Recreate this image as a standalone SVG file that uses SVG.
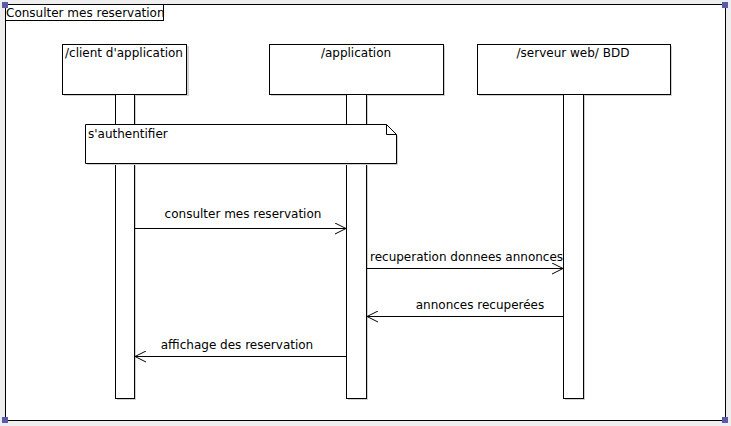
<svg xmlns="http://www.w3.org/2000/svg" width="731" height="426" viewBox="0 0 731 426">
<style>
text{font-family:"DejaVu Sans",Verdana,sans-serif;font-size:12px;fill:#000}
.box{fill:#fff;stroke:#000;stroke-width:1}
.shadow{fill:#d0d0d0}
.msg{stroke:#000;stroke-width:1;fill:none}
.handle{fill:#5a5aaa}
</style>
<defs>
<marker id="open" markerWidth="12" markerHeight="12" refX="11" refY="6" orient="auto" markerUnits="userSpaceOnUse">
<path d="M0,0.5 L11,6 L0,11.5" fill="none" stroke="#000" stroke-width="1"/>
</marker>
</defs>
<rect x="0" y="0" width="731" height="426" fill="#eeeeee"/>
<g id="frame">
<rect x="5.5" y="4.5" width="720" height="416" fill="#fff" stroke="#000"/>
<rect x="5.5" y="4.5" width="158" height="16" class="box"/>
<text x="6" y="17">Consulter mes reservation</text>
</g>
<g id="client">
<rect x="64" y="46" width="125" height="50" class="shadow"/>
<rect x="62.5" y="44.5" width="124" height="50" class="box"/>
<text x="65" y="57">/client d'application</text>
<rect x="117" y="96" width="19" height="304" class="shadow"/>
<rect x="115.5" y="94.5" width="19" height="304" class="box"/>
</g>
<g id="application">
<rect x="271" y="46" width="174" height="50" class="shadow"/>
<rect x="269.5" y="44.5" width="174" height="50" class="box"/>
<text x="356" y="57" text-anchor="middle">/application</text>
<rect x="348" y="96" width="20" height="304" class="shadow"/>
<rect x="346.5" y="94.5" width="20" height="304" class="box"/>
</g>
<g id="serveur">
<rect x="479" y="46" width="193" height="50" class="shadow"/>
<rect x="477.5" y="44.5" width="193" height="50" class="box"/>
<text x="573" y="57" text-anchor="middle">/serveur web/ BDD</text>
<rect x="565" y="96" width="20" height="304" class="shadow"/>
<rect x="563.5" y="94.5" width="20" height="304" class="box"/>
</g>
<g id="note">
<path d="M87,165 V126 H387 L398,136 V165 Z" class="shadow"/>
<path d="M85.5,124.5 H386.5 L396.5,134.5 V163.5 H85.5 Z" class="box"/>
<path d="M386.5,124.5 V134.5 H396.5" fill="none" stroke="#000"/>
<text x="88" y="138">s'authentifier</text>
</g>
<g id="connectors">
<line x1="135" y1="228.5" x2="346" y2="228.5" class="msg" marker-end="url(#open)"/>
<text x="243" y="218" text-anchor="middle">consulter mes reservation</text>
<line x1="367" y1="268.5" x2="563" y2="268.5" class="msg" marker-end="url(#open)"/>
<text x="370" y="261">recuperation donnees annonces</text>
<line x1="563" y1="316.5" x2="367" y2="316.5" class="msg" marker-end="url(#open)"/>
<text x="480" y="309" text-anchor="middle">annonces recuperées</text>
<line x1="346" y1="356.5" x2="135" y2="356.5" class="msg" marker-end="url(#open)"/>
<text x="237" y="349" text-anchor="middle">affichage des reservation</text>
</g>
<g id="handles">
<rect x="2" y="2" width="6" height="6" class="handle"/>
<rect x="722" y="2" width="6" height="6" class="handle"/>
<rect x="2" y="417" width="6" height="6" class="handle"/>
<rect x="722" y="417" width="6" height="6" class="handle"/>
</g>
</svg>
